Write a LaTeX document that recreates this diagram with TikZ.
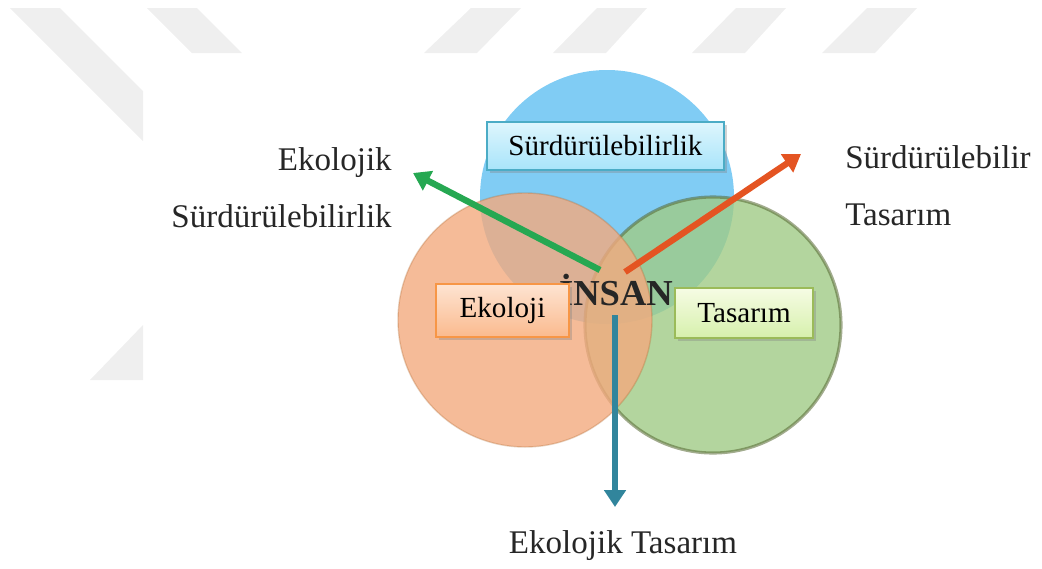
\documentclass[tikz,border=0pt]{standalone}
\usepackage{fontspec}
\setmainfont{Liberation Serif}
\usetikzlibrary{arrows.meta,shadows}

\definecolor{skyfill}{RGB}{128,204,244}
\definecolor{peachfill}{RGB}{243,170,126}
\definecolor{leaffill}{RGB}{160,203,134}
\definecolor{skyline}{RGB}{75,172,198}
\definecolor{peachline}{RGB}{247,150,70}
\definecolor{leafline}{RGB}{155,187,89}
\definecolor{skytop}{RGB}{222,246,253}
\definecolor{skybot}{RGB}{168,228,250}
\definecolor{peachtop}{RGB}{254,228,210}
\definecolor{peachbot}{RGB}{250,186,142}
\definecolor{leaftop}{RGB}{246,252,228}
\definecolor{leafbot}{RGB}{214,240,172}
\definecolor{greenarrow}{RGB}{38,168,82}
\definecolor{redarrow}{RGB}{228,84,34}
\definecolor{bluearrow}{RGB}{49,133,156}
\definecolor{markgray}{RGB}{239,239,239}

\begin{document}
\begin{tikzpicture}[x=0.025cm,y=-0.025cm,
  tag/.style={draw, line width=1.3pt, inner sep=0pt,
    font=\fontsize{20.7}{24}\selectfont,
    drop shadow={opacity=0.35,shadow xshift=2pt,shadow yshift=-2pt}},
  lbl/.style={font=\fontsize{23.5}{28}\selectfont, text=black!85, inner sep=0pt},
  arr/.style={line width=4.5pt, -{Triangle[length=12pt,width=15pt]}}]
  \useasboundingbox (0,0) rectangle (1042,568);
  % Faint marks in the background
  \fill[markgray] (10,8) -- (60,8) -- (143,91) -- (143,141) -- cycle;
  \fill[markgray] (147,8) -- (197,8) -- (242,53) -- (192,53) -- cycle;
  \fill[markgray] (90,380) -- (143,380) -- (143,325) -- cycle;
  \foreach \xa/\xb in {424/471,553/597,692/736,822/867}
    \fill[markgray] (\xa,53) -- (\xb,8) -- ++(50,0) -- (\xa+53,53) -- cycle;
  % Three circles
  \fill[skyfill] (607,197) circle (127);
  \filldraw[fill=leaffill, fill opacity=0.8, draw=leafline!55!black,
    draw opacity=0.55, line width=2.2pt] (713,325) circle (128);
  \filldraw[fill=peachfill, fill opacity=0.8, draw=peachline!70!black,
    draw opacity=0.3, line width=1pt] (525,320) circle (127);
  % Centre word
  \node[font=\bfseries\fontsize{26}{30}\selectfont, anchor=base, inner sep=0pt,
    text=black!85] (insan) at (616,305) {İNSAN};
  % Arrows out of the centre
  \coordinate (gtail) at (600,270);
  \coordinate (gtip) at (413,173);
  \coordinate (rtail) at (625,272);
  \coordinate (rtip) at (801,154);
  \coordinate (btail) at (615,315);
  \coordinate (btip) at (615,507);
  \draw[arr, greenarrow] (gtail) -- (gtip);
  \draw[arr, redarrow] (rtail) -- (rtip);
  \draw[arr, bluearrow] (btail) -- (btip);
  % Boxes on the circles
  \node[tag, draw=skyline, top color=skytop, bottom color=skybot,
    minimum width=5.925cm, minimum height=1.2cm] (surbox) at (605.5,146) {Sürdürülebilirlik};
  \node[tag, draw=peachline, top color=peachtop, bottom color=peachbot,
    minimum width=3.325cm, minimum height=1.325cm] (ekobox) at (502.5,310.5) {Ekoloji};
  \node[tag, draw=leafline, top color=leaftop, bottom color=leafbot,
    minimum width=3.45cm, minimum height=1.25cm] (tasbox) at (744,313) {Tasarım};
  % Outer labels
  \node[lbl, anchor=base east] (ekotop) at (392,170) {Ekolojik};
  \node[lbl, anchor=base east] (ekosur) at (392,227) {Sürdürülebilirlik};
  \node[lbl, anchor=base west] (surtop) at (845,168) {Sürdürülebilir};
  \node[lbl, anchor=base west] (surtas) at (845,225) {Tasarım};
  \node[lbl, anchor=base] (ekotas) at (623,553) {Ekolojik Tasarım};
\end{tikzpicture}
\end{document}
